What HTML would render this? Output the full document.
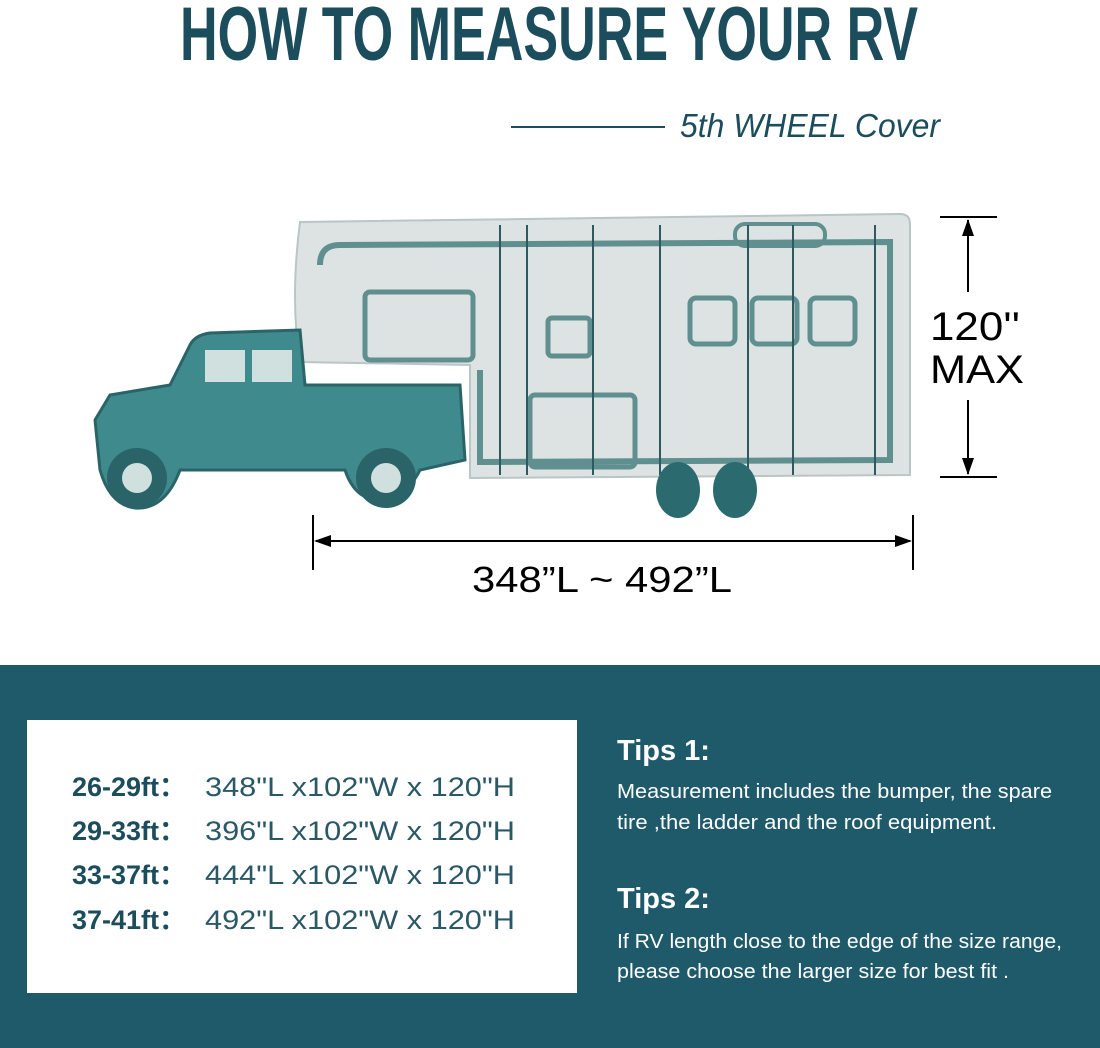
<!DOCTYPE html>
<html><head><meta charset="utf-8"><style>
html,body{margin:0;padding:0;background:#fff;}
svg{display:block;}
</style></head><body>
<svg width="1100" height="1048" viewBox="0 0 1100 1048" xmlns="http://www.w3.org/2000/svg" font-family="Liberation Sans, DejaVu Sans, sans-serif">
<rect width="1100" height="1048" fill="#fff"/>
<text x="180" y="60" font-size="76" font-weight="bold" fill="#1b4d5c" textLength="738" lengthAdjust="spacingAndGlyphs">HOW TO MEASURE YOUR RV</text>
<line x1="511" y1="127" x2="665" y2="127" stroke="#1b4d5c" stroke-width="2"/>
<text x="680" y="137" font-size="33" font-style="italic" fill="#1b4d5c" textLength="260" lengthAdjust="spacingAndGlyphs">5th WHEEL Cover</text>

<!-- RV body -->
<path d="M300 222 L900 214 Q910 214 910 224 L910 475 L470 478 L470 365 L300 362 Q290 300 300 222 Z" fill="#dde3e2" stroke="#b9c6c5" stroke-width="2"/>
<path d="M320 265 Q320 245 340 245 L890 242 L890 460 L480 462 L480 370" fill="none" stroke="#5f8f8e" stroke-width="6"/>
<rect x="365" y="292" width="108" height="68" rx="5" fill="none" stroke="#5f8f8e" stroke-width="5"/>
<rect x="548" y="318" width="42" height="38" rx="4" fill="none" stroke="#5f8f8e" stroke-width="5"/>
<rect x="690" y="298" width="45" height="46" rx="6" fill="none" stroke="#5f8f8e" stroke-width="5"/>
<rect x="752" y="298" width="45" height="46" rx="6" fill="none" stroke="#5f8f8e" stroke-width="5"/>
<rect x="810" y="298" width="45" height="46" rx="6" fill="none" stroke="#5f8f8e" stroke-width="5"/>
<rect x="530" y="395" width="105" height="72" rx="5" fill="none" stroke="#5f8f8e" stroke-width="5"/>
<rect x="735" y="224" width="90" height="22" rx="10" fill="none" stroke="#5f8f8e" stroke-width="4"/>
<g stroke="#2d5a5f" stroke-width="2">
<line x1="500" y1="225" x2="500" y2="475"/><line x1="527" y1="225" x2="527" y2="475"/>
<line x1="593" y1="225" x2="593" y2="475"/><line x1="660" y1="225" x2="660" y2="475"/>
<line x1="748" y1="225" x2="748" y2="475"/><line x1="793" y1="225" x2="793" y2="475"/>
<line x1="875" y1="225" x2="875" y2="475"/>
</g>
<ellipse cx="678" cy="490" rx="22" ry="28" fill="#2b6a6f"/>
<ellipse cx="735" cy="490" rx="22" ry="28" fill="#2b6a6f"/>

<!-- Truck -->
<path d="M95 420 L110 395 L170 385 L190 345 Q195 335 210 333 L300 330 L305 385 L460 385 L465 460 L420 470 Q405 500 380 500 Q355 500 345 470 L180 470 Q165 510 135 508 Q110 505 100 470 Z" fill="#3f8a8c" stroke="#2a6468" stroke-width="3"/>
<rect x="205" y="350" width="40" height="32" fill="#cfe0df"/>
<rect x="252" y="350" width="40" height="32" fill="#cfe0df"/>
<circle cx="137" cy="478" r="30" fill="#2a6468"/><circle cx="137" cy="478" r="15" fill="#cfe0df"/>
<circle cx="386" cy="478" r="30" fill="#2a6468"/><circle cx="386" cy="478" r="15" fill="#cfe0df"/>

<!-- height arrow -->
<g stroke="#000" stroke-width="2">
<line x1="940" y1="217" x2="997" y2="217"/><line x1="940" y1="477" x2="997" y2="477"/>
<line x1="968" y1="220" x2="968" y2="292"/><line x1="968" y1="400" x2="968" y2="474"/>
<line x1="313" y1="515" x2="313" y2="570"/><line x1="913" y1="515" x2="913" y2="570"/>
<line x1="316" y1="541" x2="910" y2="541"/>
</g>
<path d="M968 219 L962 236 L974 236Z M968 475 L962 458 L974 458Z M314 541 L331 535 L331 547Z M912 541 L895 535 L895 547Z" fill="#000"/>
<text x="930" y="340" font-size="40" fill="#000" textLength="90" lengthAdjust="spacingAndGlyphs">120''</text>
<text x="930" y="383" font-size="40" fill="#000" textLength="94" lengthAdjust="spacingAndGlyphs">MAX</text>
<text x="472" y="592" font-size="36" fill="#000" textLength="260" lengthAdjust="spacingAndGlyphs">348”L ~ 492”L</text>

<!-- bottom -->
<rect x="0" y="665" width="1100" height="383" fill="#1f5a6b"/>
<rect x="27" y="720" width="550" height="273" fill="#fff"/>
<g font-size="27">
<text x="72" y="796" font-weight="bold" fill="#1b4d5c">26-29ft：</text><text x="205" y="796" fill="#2a5866" textLength="310" lengthAdjust="spacingAndGlyphs">348"L x102"W x 120"H</text>
<text x="72" y="840" font-weight="bold" fill="#1b4d5c">29-33ft：</text><text x="205" y="840" fill="#2a5866" textLength="310" lengthAdjust="spacingAndGlyphs">396"L x102"W x 120"H</text>
<text x="72" y="884" font-weight="bold" fill="#1b4d5c">33-37ft：</text><text x="205" y="884" fill="#2a5866" textLength="310" lengthAdjust="spacingAndGlyphs">444"L x102"W x 120"H</text>
<text x="72" y="929" font-weight="bold" fill="#1b4d5c">37-41ft：</text><text x="205" y="929" fill="#2a5866" textLength="310" lengthAdjust="spacingAndGlyphs">492"L x102"W x 120"H</text>
</g>
<g fill="#fff">
<text x="617" y="760" font-size="29" font-weight="bold">Tips 1:</text>
<text x="617" y="798" font-size="20" textLength="435" lengthAdjust="spacingAndGlyphs">Measurement includes the bumper, the spare</text>
<text x="617" y="829" font-size="20" textLength="380" lengthAdjust="spacingAndGlyphs">tire ,the ladder and the roof equipment.</text>
<text x="617" y="908" font-size="29" font-weight="bold">Tips 2:</text>
<text x="617" y="948" font-size="20" textLength="445" lengthAdjust="spacingAndGlyphs">If RV length close to the edge of the size range,</text>
<text x="617" y="978" font-size="20" textLength="392" lengthAdjust="spacingAndGlyphs">please choose the larger size for best fit .</text>
</g>
</svg>
</body></html>
